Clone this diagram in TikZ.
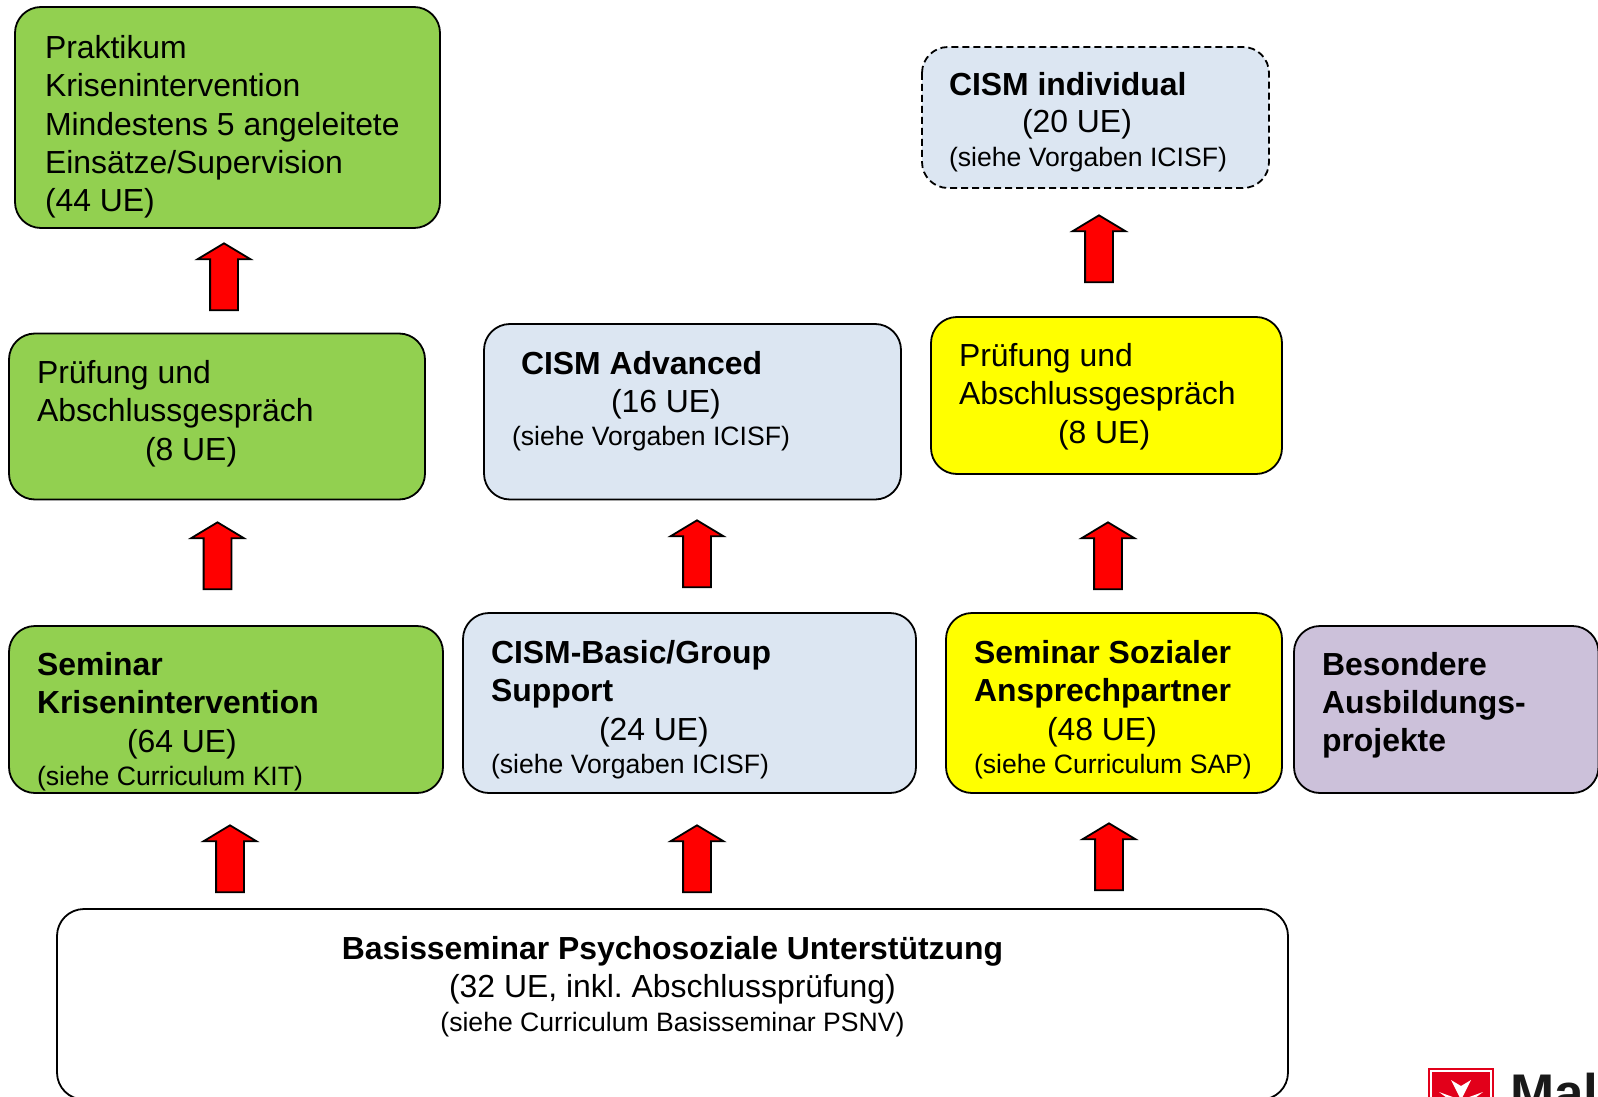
\documentclass[tikz,border=0pt]{standalone}
\usepackage{fontspec}
\setmainfont{Liberation Sans}
\usetikzlibrary{shapes.arrows}
\definecolor{grn}{HTML}{92D050}
\definecolor{blu}{HTML}{DCE6F2}
\definecolor{yel}{HTML}{FFFF00}
\definecolor{lil}{HTML}{CCC1DA}
\definecolor{mred}{HTML}{E2001A}
\newcommand{\smalltxt}[1]{{\fontsize{26.6}{30}\selectfont #1}}
\frenchspacing
\tikzset{
  card/.style={draw=black,line width=1.8pt,rounded corners=26pt},
  txt/.style={anchor=north west,align=left,inner sep=0pt,outer sep=0pt,font=\fontsize{31.9}{38.2}\selectfont\frenchspacing,text=black},
  uparrow/.style={single arrow,draw=black,fill=red,line width=1.8pt,minimum width=52pt,minimum height=67pt,
    single arrow head extend=12.5pt,single arrow tip angle=118,inner sep=13pt,outer sep=0pt,shape border rotate=90,anchor=center},
}
\begin{document}
\begin{tikzpicture}[x=1pt,y=-1pt]
\useasboundingbox (0,0) rectangle (1598,1097);
\clip (0,0) rectangle (1598,1097);
% boxes
\draw[card,fill=grn] (15,7) rectangle (440,228);
\draw[card,fill=grn] (9,333.5) rectangle (425,499.5);
\draw[card,fill=blu] (484,324) rectangle (901,499.5);
\draw[card,fill=yel] (931,317) rectangle (1282,474);
\draw[card,fill=blu,dash pattern=on 7pt off 4pt] (922,47) rectangle (1269,188);
\draw[card,fill=grn] (9,626) rectangle (443,793);
\draw[card,fill=blu] (463,613) rectangle (916,793);
\draw[card,fill=yel] (946,613) rectangle (1282,793);
\draw[card,fill=lil] (1294,626) rectangle (1598.5,793);
\draw[card,fill=white,rounded corners=27pt] (57,909) rectangle (1288,1099.5);
% text
\node[txt] (t1) at (45,35.5) {Praktikum\\Krisenintervention\\Mindestens 5 angeleitete\\Einsätze/Supervision\\(44 UE)};
\node[txt] (t2) at (37,360.5) {Prüfung und\\Abschlussgespräch\\\hspace*{108pt}(8 UE)};
\node[txt] (t3) at (521,351.5) {\textbf{CISM Advanced}\\\hspace*{90pt}(16 UE)};
\node[txt] (t3b) at (512,426) {\smalltxt{(siehe Vorgaben ICISF)}};
\node[txt] (t4) at (959,343.5) {Prüfung und\\Abschlussgespräch\\\hspace*{99pt}(8 UE)};
\node[txt] (t5) at (949,72.5) {\textbf{CISM individual}\\[-1pt]\hspace*{73pt}(20 UE)};
\node[txt] (t5b) at (949,147) {\smalltxt{(siehe Vorgaben ICISF)}};
\node[txt] (t6) at (37,652) {\textbf{Seminar}\\\textbf{Krisenintervention}\\[1pt]\hspace*{90pt}(64 UE)};
\node[txt] (t6b) at (37,766) {\smalltxt{(siehe Curriculum KIT)}};
\node[txt] (t7) at (491,640) {\textbf{CISM-Basic/Group}\\\textbf{Support}\\[1pt]\hspace*{108pt}(24 UE)};
\node[txt] (t7b) at (491,754) {\smalltxt{(siehe Vorgaben ICISF)}};
\node[txt] (t8) at (974,640) {\textbf{Seminar Sozialer}\\\textbf{Ansprechpartner}\\[1pt]\hspace*{73pt}(48 UE)};
\node[txt] (t8b) at (974,754) {\smalltxt{(siehe Curriculum SAP)}};
\node[txt] (t9) at (1322,652) {\textbf{Besondere}\\\textbf{Ausbildungs-}\\\textbf{projekte}};
\node[txt,anchor=north,align=center] (t10) at (672.5,936) {\textbf{Basisseminar Psychosoziale Unterstützung}\\[0.5pt](32 UE, inkl. Abschlussprüfung)};
\node[txt,anchor=north] (t10b) at (672.5,1012) {\smalltxt{(siehe Curriculum Basisseminar PSNV)}};
% arrows
\node[uparrow] (a1) at (224,281) {};
\node[uparrow] (a2) at (217.5,560) {};
\node[uparrow] (a3) at (230,863) {};
\node[uparrow] (a4) at (697,558) {};
\node[uparrow] (a5) at (697,863) {};
\node[uparrow] (a6) at (1099,253) {};
\node[uparrow] (a7) at (1108,560) {};
\node[uparrow] (a8) at (1109,861) {};
% logo
\fill[mred] (1428,1068) rectangle (1494,1130);
\fill[white] (1430,1070) rectangle (1492,1130);
\fill[mred] (1432,1072) rectangle (1490,1130);
\fill[white] (1461,1100) -- (1451,1080) -- (1461,1086) -- (1471,1080) -- cycle;
\fill[white] (1461,1100) -- (1439,1092) -- (1447,1098) -- (1439,1106) -- cycle;
\fill[white] (1461,1100) -- (1483,1092) -- (1475,1098) -- (1483,1106) -- cycle;
\node[txt,anchor=base west,font=\fontsize{53}{53}\selectfont\bfseries,text=black!90] (logo) at (1510,1111) {Mal};
\end{tikzpicture}
\end{document}
